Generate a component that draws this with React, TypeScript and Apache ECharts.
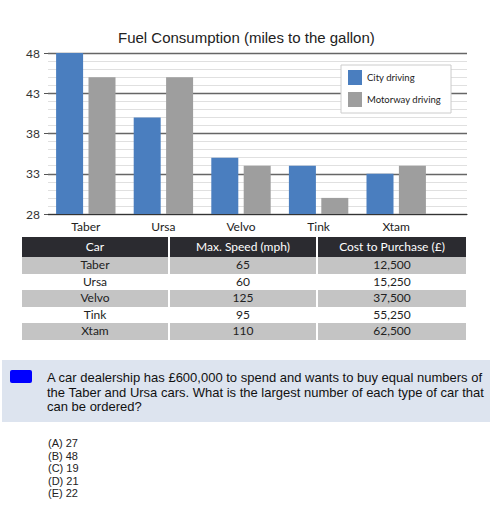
import React, { useEffect, useRef } from 'react';
import * as echarts from 'echarts';

const cars = ['Taber', 'Ursa', 'Velvo', 'Tink', 'Xtam'];
const cityMpg = [48, 40, 35, 34, 33];
const motorwayMpg = [45, 45, 34, 30, 34];
const maxSpeed = ['65', '60', '125', '95', '110'];
const purchaseCost = ['12,500', '15,250', '37,500', '55,250', '62,500'];
const tableHeaders = ['Car', 'Max. Speed (mph)', 'Cost to Purchase (£)'];
const answers = ['(A) 27', '(B) 48', '(C) 19', '(D) 21', '(E) 22'];
const yMin = 28;
const yMax = 48;

const FuelChart: React.FC = () => {
  const chartRef = useRef<HTMLDivElement>(null);

  useEffect(() => {
    if (!chartRef.current) return;
    const chart = echarts.init(chartRef.current, undefined, { renderer: 'svg' });

    const option: echarts.EChartsOption = {
      animation: false,
      title: {
        text: 'Fuel Consumption (miles to the gallon)',
        left: 113,
        top: 25,
        textStyle: {
          fontFamily: 'Liberation Sans',
          fontSize: 15,
          fontWeight: 'normal',
          color: '#222'
        }
      },
      legend: {
        orient: 'vertical',
        left: 341,
        top: 65,
        padding: [5, 10, 6, 7],
        itemWidth: 14,
        itemHeight: 15,
        itemGap: 7,
        icon: 'rect',
        borderColor: '#ccc',
        borderWidth: 1,
        backgroundColor: '#fff',
        textStyle: { fontFamily: 'Lato', fontSize: 9.5, color: '#222' },
        data: ['City driving', 'Motorway driving']
      },
      // grid 0: full-width gridlines and y labels; grid 1: the bars
      grid: [
        { left: 48, right: 27, top: 53, height: 161 },
        { left: 47, width: 388, top: 53, height: 161 }
      ],
      xAxis: [
        {
          type: 'category',
          gridIndex: 0,
          data: cars,
          axisLine: { lineStyle: { color: '#333', width: 1.2 } },
          axisTick: { show: false },
          axisLabel: { show: false }
        },
        {
          type: 'category',
          gridIndex: 1,
          data: cars,
          axisLine: { show: false },
          axisTick: { show: false },
          axisLabel: { fontFamily: 'Lato', fontSize: 12, color: '#222', margin: 6 }
        }
      ],
      yAxis: [
        {
          type: 'value',
          gridIndex: 0,
          min: yMin,
          max: yMax,
          interval: 5,
          axisLine: { show: false },
          axisTick: { show: true, length: 4, lineStyle: { color: '#555' } },
          axisLabel: { fontFamily: 'Lato', fontSize: 12, color: '#333', margin: 8 },
          splitLine: { lineStyle: { color: '#666', width: 1.3 } },
          minorTick: { show: false, splitNumber: 5 },
          minorSplitLine: { show: true, lineStyle: { color: '#e0e0e0', width: 1 } }
        },
        {
          type: 'value',
          gridIndex: 1,
          min: yMin,
          max: yMax,
          interval: 5,
          show: false,
          splitLine: { show: false }
        }
      ],
      series: [
        {
          name: 'City driving',
          type: 'bar',
          xAxisIndex: 1,
          yAxisIndex: 1,
          data: cityMpg,
          barWidth: 27,
          barGap: '20%',
          itemStyle: { color: '#4a7ebf' }
        },
        {
          name: 'Motorway driving',
          type: 'bar',
          xAxisIndex: 1,
          yAxisIndex: 1,
          data: motorwayMpg,
          barWidth: 27,
          barGap: '20%',
          itemStyle: { color: '#9e9e9e' }
        }
      ]
    };

    chart.setOption(option);
    return () => {
      chart.dispose();
    };
  }, []);

  return <div ref={chartRef} style={{ width: 494, height: 235 }} />;
};

const cellStyle: React.CSSProperties = {
  textAlign: 'center',
  padding: 0,
  height: 16.5,
  lineHeight: '16px'
};

const App: React.FC = () => {
  return (
    <div
      style={{
        position: 'absolute',
        left: 0,
        top: 0,
        width: 494,
        height: 507,
        background: '#fff',
        overflow: 'hidden'
      }}
    >
      <FuelChart />
      <table
        style={{
          position: 'absolute',
          left: 20,
          top: 237,
          width: 448,
          borderCollapse: 'separate',
          borderSpacing: '2px 0',
          fontFamily: 'Lato',
          fontSize: 12,
          color: '#222'
        }}
      >
        <thead>
          <tr>
            {tableHeaders.map((h) => (
              <th
                key={h}
                style={{
                  ...cellStyle,
                  height: 20,
                  background: '#2b2b30',
                  color: '#fff',
                  fontWeight: 'normal'
                }}
              >
                {h}
              </th>
            ))}
          </tr>
        </thead>
        <tbody>
          {cars.map((c, i) => {
            const bg = i % 2 === 0 ? '#c4c4c4' : '#fff';
            return (
              <tr key={c}>
                <td style={{ ...cellStyle, background: bg, width: 146 }}>{c}</td>
                <td style={{ ...cellStyle, background: bg, width: 146 }}>{maxSpeed[i]}</td>
                <td style={{ ...cellStyle, background: bg }}>{purchaseCost[i]}</td>
              </tr>
            );
          })}
        </tbody>
      </table>
      <div
        style={{
          position: 'absolute',
          left: 2,
          top: 360,
          width: 488,
          height: 62,
          background: '#dde4ef'
        }}
      >
        <div
          style={{
            position: 'absolute',
            left: 8,
            top: 10,
            width: 22,
            height: 13,
            background: '#0000ff',
            borderRadius: 2
          }}
        />
        <div
          style={{
            position: 'absolute',
            left: 45,
            top: 11,
            width: 440,
            fontFamily: 'Liberation Sans',
            fontSize: 13,
            lineHeight: '14.5px',
            color: '#111'
          }}
        >
          A car dealership has £600,000 to spend and wants to buy equal numbers of the Taber and
          Ursa cars. What is the largest number of each type of car that can be ordered?
        </div>
      </div>
      <div
        style={{
          position: 'absolute',
          left: 48,
          top: 437,
          fontFamily: 'Liberation Sans',
          fontSize: 11,
          lineHeight: '12.5px',
          color: '#222'
        }}
      >
        {answers.map((a) => (
          <div key={a}>{a}</div>
        ))}
      </div>
    </div>
  );
};

export default App;
